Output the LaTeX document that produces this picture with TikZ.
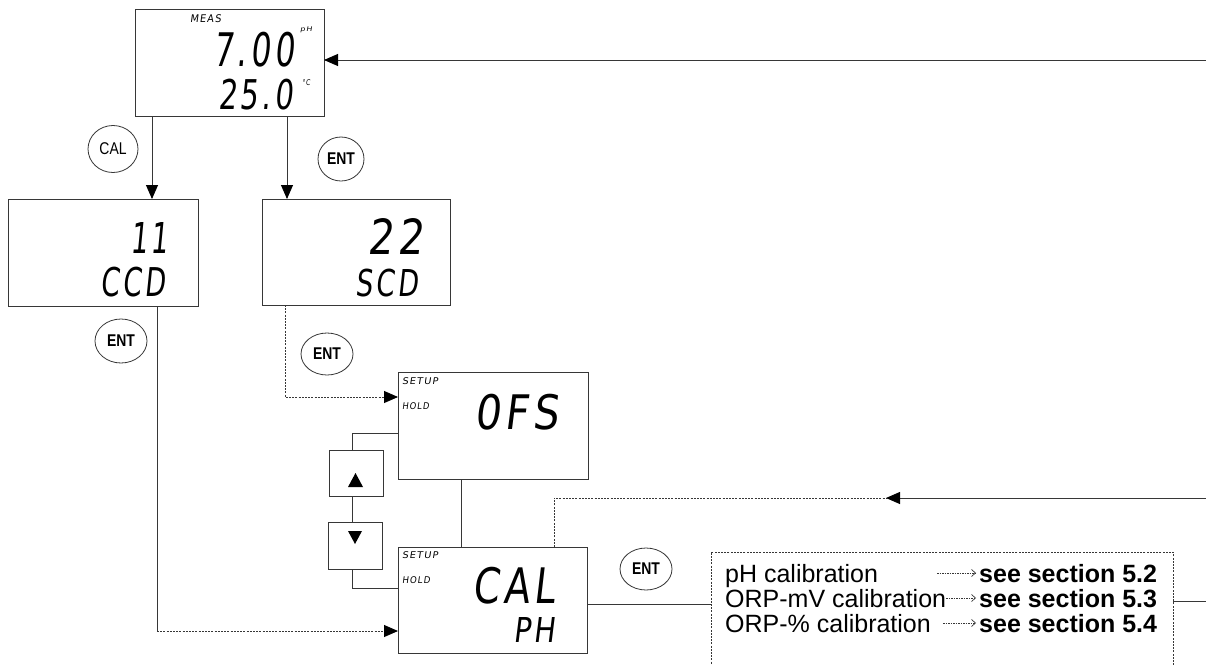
\documentclass[tikz,border=0pt]{standalone}
\usepackage{fontspec}
\setmainfont{Liberation Sans}
\newfontfamily\lcd[LetterSpace=12,FakeSlant=0.15]{DejaVu Sans}
\newfontfamily\btnfont[FakeStretch=0.82]{Liberation Sans}
\usetikzlibrary{arrows.meta,shapes.geometric}
\definecolor{linec}{RGB}{55,55,55}
\newcommand{\lcdtxt}[3]{\resizebox*{#1pt}{#2pt}{\lcd #3}}
\tikzset{
  lcdbox/.style={draw=linec,line width=0.9pt,inner sep=0pt,outer sep=0pt},
  dtext/.style={anchor=north west,inner sep=0pt,outer sep=0pt},
  btn/.style={draw=linec,ellipse,line width=0.8pt,inner sep=0pt,font=\btnfont\fontsize{17}{18}\selectfont},
  conn/.style={draw=linec,line width=0.9pt},
  dotc/.style={conn,dash pattern=on 2pt off 1.2pt},
  tip/.style={-{Triangle[length=14pt,width=12pt,color=black]}},
  smallarr/.style={draw=linec,line width=0.7pt,dash pattern=on 1.5pt off 1pt,-{Straight Barb[length=4pt,width=7pt]}},
  caltext/.style={anchor=base west,inner sep=0pt,font=\fontsize{25}{28}\selectfont},
  seetext/.style={anchor=base west,inner sep=0pt,font=\bfseries\fontsize{25}{28}\selectfont}
}
\begin{document}
\begin{tikzpicture}[x=1pt,y=-1pt]
\useasboundingbox (0,0) rectangle (1206,664);
\clip (0,0) rectangle (1206,664);
\fill[white] (0,0) rectangle (1206,664);

% display boxes
\node[lcdbox,minimum width=189pt,minimum height=107pt] (meas) at (229.5,62.5) {};
\node[lcdbox,minimum width=190pt,minimum height=107pt] (box11) at (103,252.5) {};
\node[lcdbox,minimum width=188pt,minimum height=106pt] (box22) at (356,252) {};
\node[lcdbox,minimum width=190pt,minimum height=107pt] (ofs) at (493,425.5) {};
\node[lcdbox,minimum width=189pt,minimum height=106pt] (calbox) at (492.5,600) {};
\node[lcdbox,minimum width=54pt,minimum height=46pt] (up) at (356,473) {};
\node[lcdbox,minimum width=54pt,minimum height=47pt] (down) at (355,545.5) {};
\node[draw=linec,line width=0.8pt,dash pattern=on 2pt off 1.2pt,minimum width=462pt,minimum height=128pt,inner sep=0pt] (tbox) at (942,616) {};

% display texts
\node[dtext] (tmeas) at (190,15) {\lcdtxt{31}{8}{MEAS}};
\node[dtext] (tph) at (300,27) {\lcdtxt{12}{6}{pH}};
\node[dtext] (t700) at (213,32) {\lcdtxt{81}{35}{7.00}};
\node[dtext] (t250) at (218,79) {\lcdtxt{75}{31}{25.0}};
\node[dtext] (tdeg) at (302,80) {\lcdtxt{8}{6}{°C}};
\node[dtext] (t11) at (130,222) {\lcdtxt{38}{31}{11}};
\node[dtext] (tccd) at (100,267) {\lcdtxt{65}{30}{CCD}};
\node[dtext] (t22) at (367,218) {\lcdtxt{56}{36}{22}};
\node[dtext] (tscd) at (355,269) {\lcdtxt{63}{28}{SCD}};
\node[dtext] (tsetup1) at (402,378) {\lcdtxt{36}{7}{SETUP}};
\node[dtext] (thold1) at (402,403) {\lcdtxt{27}{7}{HOLD}};
\node[dtext] (tofs) at (474,394) {\lcdtxt{84}{36}{0FS}};
\node[dtext] (tsetup2) at (402,552) {\lcdtxt{36}{7}{SETUP}};
\node[dtext] (thold2) at (402,577) {\lcdtxt{28}{7}{HOLD}};
\node[dtext] (tcal) at (472,567) {\lcdtxt{83}{37}{CAL}};
\node[dtext] (tphb) at (513,617) {\lcdtxt{42}{25}{PH}};

% buttons
\node[btn,minimum width=50pt,minimum height=47pt] (bcal) at (113,149) {CAL};
\node[btn,minimum width=46pt,minimum height=44pt] (bent1) at (341,159) {\bfseries ENT};
\node[btn,minimum width=52pt,minimum height=44pt] (bent3) at (121,341) {\bfseries ENT};
\node[btn,minimum width=52pt,minimum height=42pt] (bent2) at (327,354) {\bfseries ENT};
\node[btn,minimum width=52pt,minimum height=42pt] (bent4) at (646,569) {\bfseries ENT};

% arrow keys
\fill[black] (348,487) -- (363,487) -- (355.5,473) -- cycle;
\fill[black] (348,531) -- (362,531) -- (355,544) -- cycle;

% coordinates
\coordinate (x152) at (152,0);
\coordinate (x287) at (287,0);
\coordinate (x157) at (157,0);
\coordinate (x285) at (285,0);
\coordinate (x352) at (352,0);
\coordinate (x461) at (461,0);
\coordinate (x554) at (554,0);
\coordinate (rtop) at (1206,60);
\coordinate (c631) at (157,631);
\coordinate (c397) at (285,397);
\coordinate (c433) at (352,433);
\coordinate (c588) at (352,588);
\coordinate (c498) at (554,498);
\coordinate (a498) at (886,498);
\coordinate (r498) at (1206,498);
\coordinate (y604) at (0,604);
\coordinate (r601) at (1206,601);

% connectors
\draw[conn,tip] (rtop) -- (rtop -| meas.east);
\draw[conn,tip] (x152 |- meas.south) -- (x152 |- box11.north);
\draw[conn,tip] (x287 |- meas.south) -- (x287 |- box22.north);
\draw[conn] (x157 |- box11.south) -- (c631);
\draw[dotc,tip] (c631) -- (c631 -| calbox.west);
\draw[dotc,tip] (x285 |- box22.south) -- (c397) -- (c397 -| ofs.west);
\draw[conn] (c433 -| ofs.west) -- (c433) -- (x352 |- up.north);
\draw[conn] (x352 |- up.south) -- (x352 |- down.north);
\draw[conn] (x352 |- down.south) -- (c588) -- (c588 -| calbox.west);
\draw[conn] (x461 |- ofs.south) -- (x461 |- calbox.north);
\draw[dotc] (x554 |- calbox.north) -- (c498) -- (a498);
\draw[conn,tip] (r498) -- (a498);
\draw[conn] (y604 -| calbox.east) -- (y604 -| tbox.west);
\draw[conn] (r601 -| tbox.east) -- (r601);

% calibration text
\node[caltext] (l1) at (725,582) {pH calibration};
\node[caltext] (l2) at (725,607) {ORP-mV calibration};
\node[caltext] (l3) at (725,632) {ORP-\% calibration};
\node[seetext] (s1) at (979,582) {see section 5.2};
\node[seetext] (s2) at (979,607) {see section 5.3};
\node[seetext] (s3) at (979,632) {see section 5.4};
\coordinate (a1) at (937,573);
\coordinate (a2) at (l2.east |- 0,598);
\coordinate (a3) at (943,623);
\draw[smallarr] (a1) -- ([xshift=-3pt]s1.west |- a1);
\draw[smallarr] (a2) -- ([xshift=-3pt]s2.west |- a2);
\draw[smallarr] (a3) -- ([xshift=-3pt]s3.west |- a3);
\end{tikzpicture}
\end{document}
